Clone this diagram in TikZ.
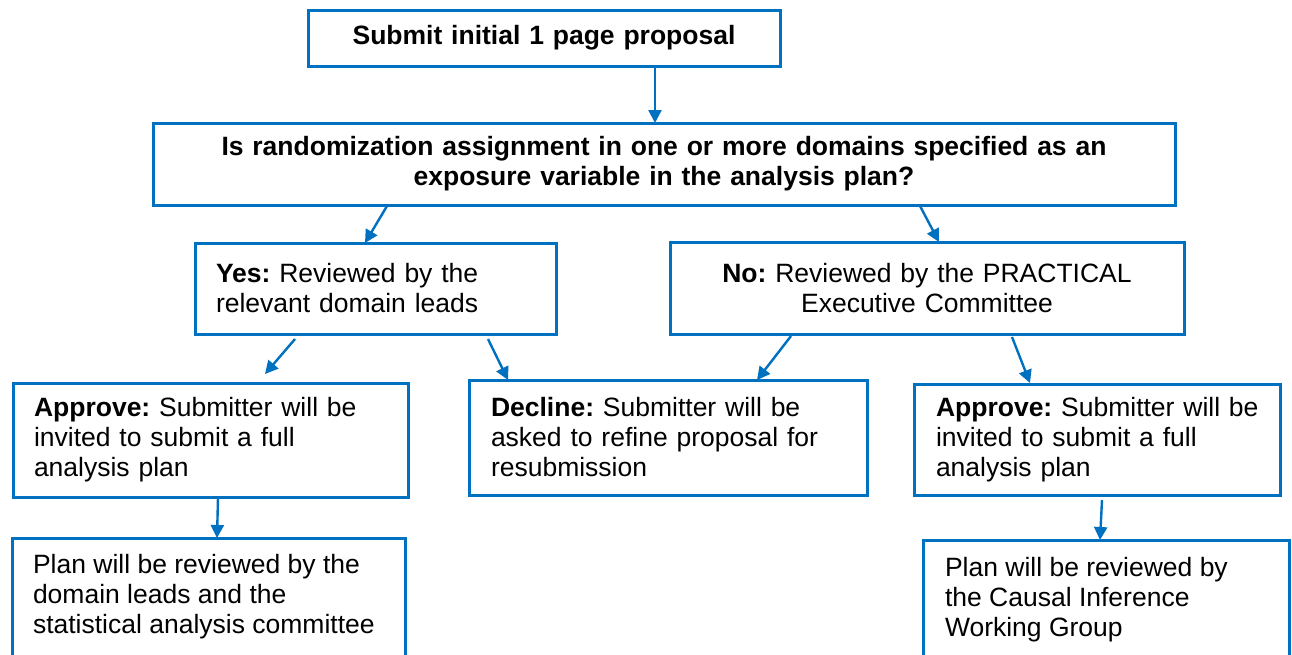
\documentclass[tikz,border=0pt]{standalone}
\usepackage{fontspec}
\setmainfont{Liberation Sans}
\usetikzlibrary{arrows.meta,calc}
\definecolor{boxblue}{HTML}{0070C0}
\begin{document}
\frenchspacing
\begin{tikzpicture}[x=1pt,y=-1pt,
  every node/.style={font=\fontsize{26.5pt}{30pt}\selectfont\frenchspacing, text=black, outer sep=0pt},
  box/.style={draw=boxblue, line width=3pt, inner ysep=0pt, inner xsep=21pt, minimum height=#1},
  arr/.style={draw=boxblue, line width=2.4pt, -{Triangle[length=13pt,width=13pt]}}]
\useasboundingbox (0,0) rectangle (1292,654);
\clip (0,0) rectangle (1292,654);
\fill[white] (0,0) rectangle (1292,654);

\node[box=56pt, text width=430pt, align=center] (b1) at (544,38) {\textbf{Submit initial 1 page proposal}};
\node[box=82pt, text width=980pt, align=center] (q) at (664,164)
  {\textbf{Is randomization assignment in one or more domains specified as an}\\\textbf{exposure variable in the analysis plan?}};
\node[box=91pt, text width=319pt, align=left] (yes) at (375.5,288.5)
  {\textbf{Yes:} Reviewed by the\\relevant domain leads};
\node[box=92pt, text width=472pt, align=center] (no) at (927,288)
  {\textbf{No:} Reviewed by the PRACTICAL\\Executive Committee};
\node[box=114pt, text width=353pt, align=left] (apl) at (210.5,440)
  {\textbf{Approve:} Submitter will be\\invited to submit a full\\analysis plan};
\node[box=115pt, text width=354pt, align=left, inner xsep=22pt] (dec) at (668,437.5)
  {\textbf{Decline:} Submitter will be\\asked to refine proposal for\\resubmission};
\node[box=111pt, text width=330pt, align=left, inner xsep=18pt] (apr) at (1097,439.5)
  {\hspace*{4pt}\textbf{Approve:} Submitter will be\\\hspace*{4pt}invited to submit a full\\\hspace*{4pt}analysis plan};
\node[box=142pt, minimum width=393pt, inner xsep=0pt] (planl) at (208.5,609) {};
\node[anchor=west, align=left, inner sep=0pt] (planlt) at (33,597)
  {Plan will be reviewed by the\\domain leads and the\\statistical analysis committee};
\node[box=142pt, minimum width=366pt, inner xsep=0pt] (planr) at (1106,611) {};
\node[anchor=west, align=left, inner sep=0pt] (planrt) at (945,600)
  {Plan will be reviewed by\\the Causal Inference\\Working Group};

\draw[arr] ($(b1.south west)+(347,0)$) -- ($(q.north west)+(502,0)$);
\draw[arr] ($(q.south west)+(234,1)$) -- ($(yes.north west)+(170,0)$);
\draw[arr] ($(q.south west)+(767,1)$) -- ($(no.north west)+(269,0)$);
\draw[arr] ($(yes.south west)+(100,5)$) -- ($(apl.north west)+(252,-9)$);
\draw[arr] ($(yes.south west)+(293,5)$) -- ($(dec.north west)+(39,0)$);
\draw[arr] ($(no.south west)+(121,2)$) -- ($(dec.north west)+(288,0)$);
\draw[arr] ($(no.south west)+(342,3)$) -- ($(apr.north west)+(116,-1)$);
\draw[arr] ($(apl.south west)+(205,1)$) -- ($(planl.north west)+(205,0)$);
\draw[arr] ($(apr.south west)+(188,5)$) -- ($(planr.north west)+(177,0)$);
\end{tikzpicture}
\end{document}
